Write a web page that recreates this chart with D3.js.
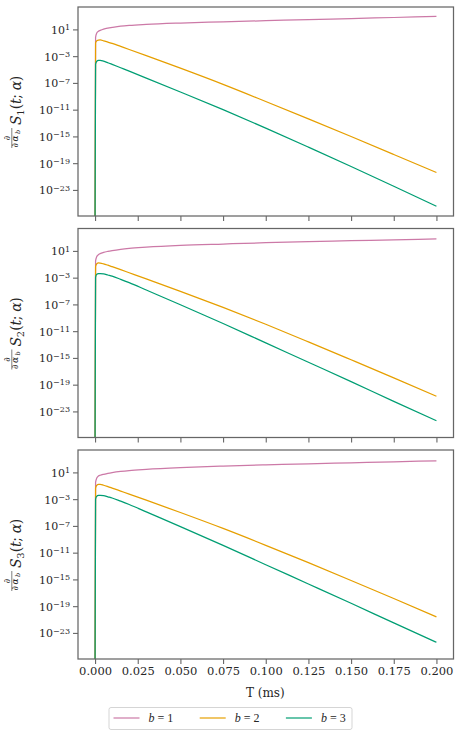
<!DOCTYPE html>
<html>
<head>
<meta charset="utf-8">
<script src="https://cdn.jsdelivr.net/npm/d3@7"></script>
<style>
  body { margin: 0; background: #fff; }
  svg { display: block; }
</style>
</head>
<body>
<div id="vis"></div>
<script>
// time samples (ms); the curves all start from 0 at t = 0
const tValues = [0, 0.0003, 0.001, 0.002, 0.003, 0.005, 0.0075, 0.01, 0.015, 0.02, 0.03, 0.05, 0.075, 0.1, 0.125, 0.15, 0.175, 0.2]

// log10 of the derivative (-Infinity = value 0)
const s1B1 = [-Infinity, -0.2, 0.45, 0.72, 0.85, 1.05, 1.2, 1.3, 1.48, 1.6, 1.75, 1.95, 2.13, 2.3, 2.47, 2.62, 2.78, 2.94]
const s1B2 = [-Infinity, -1.0, -0.68, -0.59, -0.58, -0.7, -0.9, -1.1, -1.55, -2.0, -2.92, -4.8, -7.22, -9.78, -12.38, -15.02, -17.7, -20.4]
const s1B3 = [-Infinity, -4.2, -3.75, -3.64, -3.63, -3.75, -3.98, -4.23, -4.74, -5.25, -6.28, -8.36, -11.0, -13.75, -16.6, -19.5, -22.45, -25.45]

const s2B1 = [-Infinity, -0.5, 0.15, 0.45, 0.6, 0.78, 0.93, 1.05, 1.24, 1.38, 1.56, 1.82, 2.03, 2.22, 2.38, 2.52, 2.66, 2.79]
const s2B2 = [-Infinity, -1.35, -0.92, -0.8, -0.82, -0.94, -1.14, -1.36, -1.81, -2.27, -3.19, -5.05, -7.45, -9.97, -12.6, -15.28, -17.98, -20.73]
const s2B3 = [-Infinity, -2.95, -2.5, -2.4, -2.38, -2.42, -2.6, -2.78, -3.25, -3.75, -4.85, -7.05, -9.85, -12.75, -15.65, -18.55, -21.5, -24.4]

const s3B1 = [-Infinity, -0.5, 0.15, 0.45, 0.57, 0.72, 0.85, 0.96, 1.14, 1.28, 1.46, 1.72, 1.95, 2.12, 2.28, 2.44, 2.59, 2.73]
const s3B2 = [-Infinity, -1.35, -0.92, -0.8, -0.8, -0.92, -1.12, -1.34, -1.79, -2.24, -3.15, -5.0, -7.38, -9.9, -12.5, -15.16, -17.85, -20.6]
const s3B3 = [-Infinity, -3.0, -2.55, -2.45, -2.43, -2.47, -2.65, -2.83, -3.3, -3.8, -4.9, -7.1, -9.9, -12.8, -15.68, -18.57, -21.5, -24.4]

const panelSeries = [[s1B1, s1B2, s1B3], [s2B1, s2B2, s2B3], [s3B1, s3B2, s3B3]]
const panelIndex = ['1', '2', '3']
const bLabels = ['1', '2', '3']
const colors = ['#cc79a7', '#e69f00', '#009e73']

const xTicks = [0, 0.025, 0.05, 0.075, 0.1, 0.125, 0.15, 0.175, 0.2]
const yTickExponents = [1, -3, -7, -11, -15, -19, -23]

const W = 461, H = 737
const plotLeft = 78, plotRight = 453.5
const panelTops = [7, 228.5, 450]
const panelHeight = 209
const axisColor = '#666'
const textColor = '#262626'
const serif = '"DejaVu Serif", serif'
const mathFont = '"DejaVu Serif", "Liberation Serif", serif'

const svg = d3.select('#vis').append('svg')
    .attr('width', W)
    .attr('height', H)

const x = d3.scaleLinear([-0.01, 0.21], [plotLeft, plotRight])
const yMin = Math.pow(10, -26.9), yMax = Math.pow(10, 4.35)

// stretch a text to a given length along its baseline
function fitLength(text, target) {
    const w = text.node().getBBox().width
    const n = text.text().length
    text.style('letter-spacing', ((target - w) / n) + 'px')
}

panelSeries.forEach((series, p) => {
    const top = panelTops[p]
    const y = d3.scaleLog([yMin, yMax], [top + panelHeight, top])

    const g = svg.append('g')

    svg.append('clipPath').attr('id', 'clip' + p)
        .append('rect')
        .attr('x', plotLeft).attr('y', top)
        .attr('width', plotRight - plotLeft).attr('height', panelHeight)

    const line = d3.line()
        .x(d => x(d.t))
        .y(d => y(Math.max(d.v, yMin)))   // non-positive values clipped to the bottom
        .curve(d3.curveMonotoneX)

    series.forEach((s, i) => {
        const pts = tValues.map((t, k) => ({t: t, v: Math.pow(10, s[k])}))
        g.append('path')
            .datum(pts)
            .attr('clip-path', `url(#clip${p})`)
            .attr('fill', 'none')
            .attr('stroke', colors[i])
            .attr('stroke-width', 1.25)
            .attr('stroke-linejoin', 'round')
            .attr('d', line)
    })

    // x axis
    const xAxis = d3.axisBottom(x)
        .tickValues(xTicks)
        .tickSize(5)
        .tickPadding(3)
        .tickFormat(p === 2 ? d3.format('.3f') : '')
    const xg = svg.append('g')
        .attr('transform', `translate(0, ${top + panelHeight})`)
        .call(xAxis)
    xg.select('.domain').remove()
    xg.selectAll('.tick line').attr('stroke', axisColor).attr('stroke-width', 1.1)
    xg.selectAll('.tick text')
        .attr('fill', textColor)
        .style('font-family', serif)
        .style('font-size', '11.5px')

    // y axis
    const yAxis = d3.axisLeft(y)
        .tickValues(yTickExponents.map(e => Math.pow(10, e)))
        .tickSize(5)
        .tickFormat('')
    const yg = svg.append('g')
        .attr('transform', `translate(${plotLeft}, 0)`)
        .call(yAxis)
    yg.select('.domain').remove()
    yg.selectAll('.tick line').attr('stroke', axisColor).attr('stroke-width', 1.1)
    yg.selectAll('.tick').each(function(d, k) {
        const t = d3.select(this).append('text')
            .attr('x', -8)
            .attr('dy', '0.35em')
            .attr('text-anchor', 'end')
            .attr('fill', textColor)
            .style('font-family', serif)
            .style('font-size', '11px')
        t.append('tspan').text('10')
        const e = yTickExponents[k]
        t.append('tspan')
            .attr('dy', '-0.45em')
            .style('font-size', '8px')
            .text(e < 0 ? '\u2212' + Math.abs(e) : String(e))
    })

    // frame
    svg.append('rect')
        .attr('x', plotLeft).attr('y', top)
        .attr('width', plotRight - plotLeft).attr('height', panelHeight)
        .attr('fill', 'none')
        .attr('stroke', axisColor)
        .attr('stroke-width', 1.25)

    // y label: d/d alpha_b S_p(t; alpha)
    const cy = top + panelHeight / 2 + 1
    const lab = svg.append('g')
        .attr('transform', `translate(21, ${cy}) rotate(-90)`)
        .attr('fill', textColor)
        .style('font-family', mathFont)
        .style('font-style', 'italic')
    lab.append('text')
        .attr('x', -25.5).attr('y', -11)
        .attr('text-anchor', 'middle')
        .style('font-size', '9px')
        .text('\u2202')
    lab.append('line')
        .attr('x1', -35.5).attr('x2', -15.5)
        .attr('y1', -9.2).attr('y2', -9.2)
        .attr('stroke', textColor).attr('stroke-width', 0.6)
    const den = lab.append('text')
        .attr('x', -35).attr('y', -2.6)
        .style('font-size', '9px')
    den.append('tspan').text('\u2202\u03b1')
    den.append('tspan').attr('dy', 1.5).style('font-size', '6.5px').text('b')
    fitLength(den, 19)

    const st = lab.append('text')
        .attr('x', -12.5).attr('y', 0)
        .style('font-size', '14px')
    st.append('tspan').text('S')
    st.append('tspan').attr('dy', 3).style('font-size', '10px').style('font-style', 'normal').text(panelIndex[p])
    st.append('tspan').attr('dy', -3).attr('dx', 0.5).style('font-style', 'normal').text('(')
    st.append('tspan').text('t')
    st.append('tspan').style('font-style', 'normal').text('; ')
    st.append('tspan').text('\u03b1')
    st.append('tspan').style('font-style', 'normal').text(')')
    fitLength(st, 49)
})

// x label
svg.append('text')
    .attr('x', (plotLeft + plotRight) / 2 - 0.5)
    .attr('y', 697)
    .attr('text-anchor', 'middle')
    .attr('fill', textColor)
    .style('font-family', serif)
    .style('font-size', '12px')
    .text('T (ms)')

// legend
const legend = svg.append('g')
legend.append('rect')
    .attr('x', 109).attr('y', 707.5)
    .attr('width', 243).attr('height', 22)
    .attr('rx', 2)
    .attr('fill', '#fff')
    .attr('stroke', '#d0d0d0')
    .attr('stroke-width', 0.9)

bLabels.forEach((b, i) => {
    const lx = 113.5 + i * 86.2
    legend.append('line')
        .attr('x1', lx).attr('x2', lx + 26)
        .attr('y1', 718).attr('y2', 718)
        .attr('stroke', colors[i])
        .attr('stroke-width', 1.2)
    const t = legend.append('text')
        .attr('x', lx + 35).attr('y', 722)
        .attr('fill', textColor)
        .style('font-family', '"Liberation Serif", serif')
        .style('font-size', '12px')
    t.append('tspan').style('font-style', 'italic').text('b')
    t.append('tspan').text(' = ' + b)
})
</script>
</body>
</html>
